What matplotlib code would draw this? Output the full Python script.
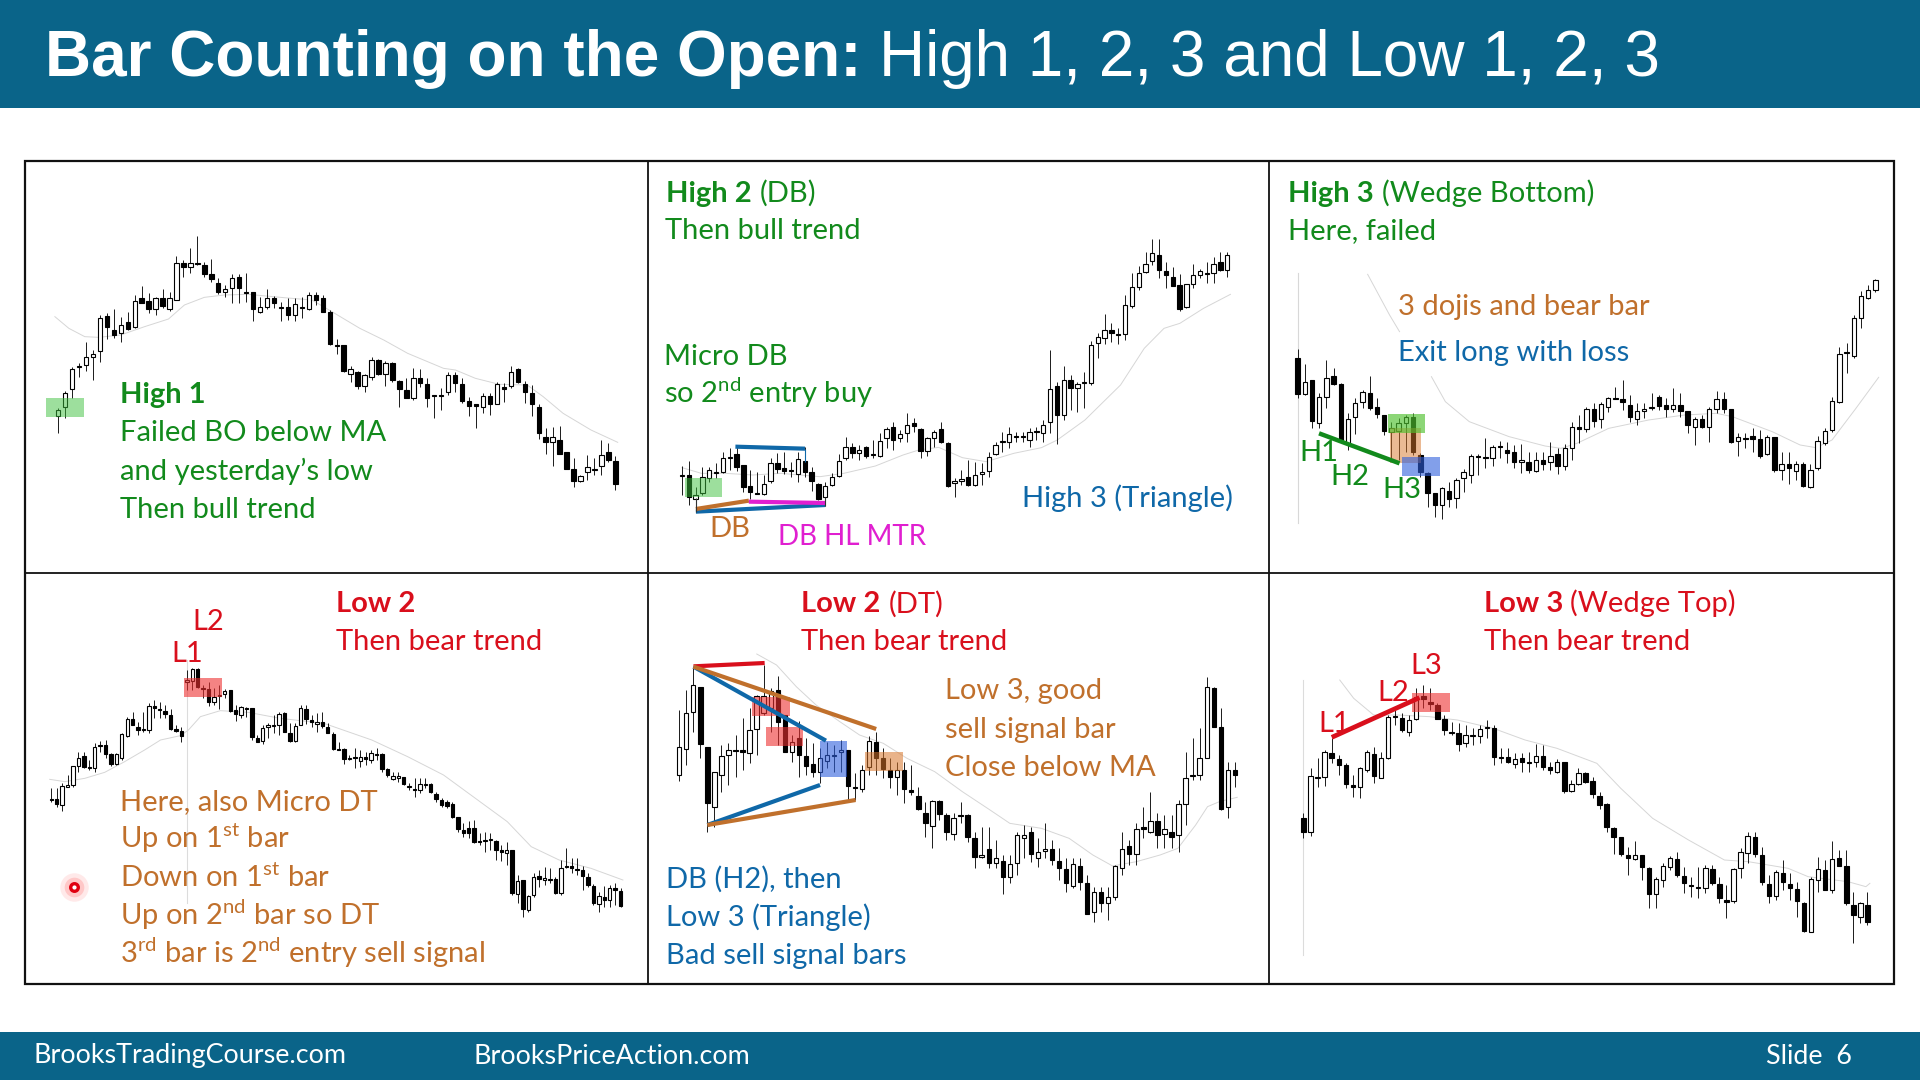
import numpy as np
import matplotlib
matplotlib.use("Agg")
import matplotlib.pyplot as plt
from matplotlib.patches import Rectangle

# Levels are chart units counted from the top of each panel, so smaller = higher.
p1_open = [752,726,673,604,601,575,557,453,495,504,470,486,399,408,433,399,432,405,293,306,293,300,327,354,380,370,336,380,381,441,425,398,425,427,451,426,433,391,398,442,540,541,627,620,664,636,586,627,593,647,674,698,638,657,691,691,682,630,656,709,718,726,692,716,665,663,612,658,684,727,816,831,826,861,913,947,921,914,904,861,887]
p1_close = [736,683,612,603,577,567,460,485,511,479,493,408,413,433,399,423,399,293,307,293,298,326,343,380,373,338,370,381,432,427,398,414,427,451,417,430,389,404,441,538,541,618,613,663,630,586,627,595,645,671,698,638,654,698,692,692,630,654,708,724,724,692,716,657,671,620,652,680,716,805,831,817,867,911,947,933,906,912,871,884,957]
p1_high = [728,678,605,595,532,555,450,445,433,455,440,390,362,385,395,373,380,272,285,248,212,290,283,340,360,328,328,325,380,395,372,392,410,400,400,395,380,382,390,435,522,540,603,618,628,577,583,588,590,645,640,610,612,640,690,670,620,622,640,695,718,685,685,650,655,603,610,648,660,718,790,785,782,860,878,930,870,880,826,833,873]
p1_low = [805,760,698,635,618,645,590,522,520,530,495,490,415,445,450,430,438,405,335,325,300,335,350,388,395,415,415,410,468,445,432,430,468,465,468,460,435,420,442,540,568,620,650,672,680,645,630,662,650,725,700,705,665,725,760,735,690,680,715,752,788,745,750,718,710,668,655,715,752,822,868,903,868,912,965,950,945,930,930,890,975]
p1_ma_x = [75,110,150,185,240,300,360,400,450,500,560,650,720,770,840,900,960,1050,1080,1130,1190,1260,1300,1350,1420,1487]
p1_ma_y = [455,490,515,517,510,485,462,420,397,390,388,398,405,440,490,525,565,610,615,640,658,660,695,745,795,832]

p2_open = [933,929,1001,985,940,920,920,879,868,901,963,984,988,948,895,908,916,927,887,922,957,995,961,933,880,847,865,847,868,872,820,786,820,805,773,793,858,820,793,833,955,947,936,961,928,919,867,832,831,814,813,825,799,805,771,663,751,644,668,655,655,533,519,494,507,506,424,365,322,289,270,317,337,359,425,356,329,325,323,290,316]
p2_close = [929,995,989,935,915,921,880,875,905,967,982,985,956,895,913,919,917,881,920,947,1001,963,937,888,847,865,854,873,870,827,793,824,806,779,783,857,820,800,832,962,949,941,961,929,922,875,841,827,806,815,817,801,800,779,671,749,644,668,658,650,541,515,494,505,511,420,366,325,298,263,316,329,362,431,358,331,317,326,297,316,270]
p2_high = [902,888,965,905,905,895,860,848,840,900,915,920,930,880,865,862,892,860,845,905,955,950,925,868,815,835,840,842,825,805,785,772,795,745,760,790,815,795,772,832,938,915,885,890,895,862,830,800,785,800,800,788,785,765,555,650,602,630,650,622,528,505,447,475,490,390,325,303,262,222,222,290,305,328,358,298,312,290,275,262,262]
p2_low = [990,1020,1032,990,950,940,925,915,918,980,1003,985,990,955,925,928,935,950,935,978,1005,1022,963,935,885,880,885,880,880,875,850,855,830,830,800,880,872,845,835,965,995,960,963,963,960,935,870,860,850,830,830,845,825,830,805,838,765,735,742,730,660,580,538,530,538,525,430,375,325,300,340,368,362,438,430,368,338,355,355,318,337]
p2_ma_x = [81,130,190,260,330,430,490,570,640,680,730,790,850,920,990,1030,1100,1190,1250,1300,1340,1400,1468]
p2_ma_y = [908,925,925,930,925,935,925,903,870,855,847,878,890,865,848,825,765,660,550,490,475,430,388]

p3_open = [578,688,646,775,695,633,658,835,757,712,683,726,750,800,798,775,757,869,923,985,1020,979,1000,940,930,872,875,878,843,856,862,890,892,917,886,890,867,903,848,787,793,733,762,725,699,702,720,763,737,730,695,720,732,721,739,787,763,787,732,702,733,829,818,812,823,868,817,915,898,917,897,965,910,835,795,712,561,572,460,400,375]
p3_close = [688,652,767,695,640,656,825,763,713,682,730,748,797,790,775,757,860,920,983,1020,970,1002,946,922,872,873,879,847,847,865,890,886,915,885,896,873,903,850,787,792,732,767,717,700,701,712,755,739,731,725,723,732,721,737,780,763,786,733,702,732,830,817,819,822,872,817,915,897,908,897,963,915,828,798,707,566,565,460,393,375,345]
p3_high = [553,597,645,685,585,610,655,745,700,675,633,700,750,770,760,750,745,865,920,985,965,950,938,912,868,868,818,840,828,830,840,838,860,860,860,830,850,838,770,750,725,715,712,695,665,646,690,715,715,685,690,700,670,685,738,755,750,725,678,682,733,805,805,788,795,810,815,860,862,888,890,898,812,790,695,545,535,450,378,360,343]
p3_low = [700,690,790,790,730,660,825,855,808,730,735,760,810,880,885,860,870,935,1025,1055,1062,1025,1030,980,953,930,910,902,880,895,910,925,925,920,915,915,928,915,885,835,800,785,790,740,700,735,770,780,760,735,735,755,740,755,805,840,790,830,745,745,835,872,850,860,880,870,920,945,958,945,965,970,915,840,800,715,625,580,490,402,380]
p3_ma_x = [245,300,325,np.nan,405,440,500,600,690,730,770,850,950,1040,1120,1160,1260,1330,1370,1410,1470,1527]
p3_ma_y = [328,450,500,np.nan,635,710,770,815,843,850,835,790,765,750,745,755,800,840,848,825,730,637]

p4_open = [672,672,690,635,630,572,543,575,578,510,511,538,568,550,482,432,455,464,465,392,402,407,420,461,469,322,318,281,338,343,380,362,358,346,404,420,398,400,489,498,456,453,451,414,473,497,449,403,435,446,440,455,476,523,522,552,546,557,547,555,536,538,582,611,610,606,633,641,645,629,628,656,675,682,686,727,765,760,760,798,799,796,797,825,835,825,958,915,1005,960,904,915,911,912,955,872,873,882,885,905,933,988,965,976,940,947]
p4_close = [673,686,633,629,574,548,575,580,515,513,537,567,538,478,432,450,465,462,392,400,404,417,463,467,484,316,281,336,343,380,367,360,347,408,418,396,399,486,500,459,450,451,417,471,497,452,399,432,441,440,452,473,521,524,551,548,549,545,551,535,538,582,600,603,603,628,637,645,627,627,652,673,691,693,725,762,775,775,800,800,796,793,825,830,825,955,917,1003,963,905,913,908,913,955,880,875,880,884,902,930,985,963,975,940,945,992]
p4_high = [640,640,625,600,575,532,530,555,505,498,495,535,535,475,425,412,440,410,385,375,382,390,402,450,455,285,280,278,330,320,340,330,343,345,390,392,395,398,480,450,445,420,410,412,445,445,390,390,420,415,410,445,470,500,520,540,520,525,530,525,520,535,580,590,590,605,625,610,610,610,625,650,670,675,680,725,745,738,735,775,770,775,795,810,800,825,900,915,960,895,885,875,878,905,855,820,850,850,872,895,928,950,932,930,925,940]
p4_low = [680,695,707,635,635,590,580,585,592,530,550,572,570,555,485,450,480,470,475,430,430,430,465,470,500,345,345,338,370,392,390,402,370,410,438,428,425,495,502,508,490,475,480,472,500,500,450,448,455,470,460,475,525,525,568,555,578,575,570,565,555,590,605,615,620,630,645,665,655,640,655,680,695,700,730,770,785,790,805,810,830,825,855,858,870,960,985,1025,1010,965,935,930,925,958,960,880,895,900,945,935,990,1010,995,995,990,995]
p4_ma_x = [62,100,150,200,250,300,340,390,410,440,490,560,640,750,870,960,1050,1130,1210,1270,1340,1420,1500]
p4_ma_y = [613,620,610,592,560,525,495,482,465,425,407,412,430,445,495,545,600,670,740,815,855,880,915]

p5_open = [601,523,412,337,516,695,600,541,525,525,533,462,415,400,346,421,532,490,542,567,592,557,540,530,525,635,643,575,500,550,585,607,585,645,662,713,753,678,720,778,720,720,790,847,823,863,857,906,863,788,770,848,829,822,857,881,932,874,925,1010,952,985,967,880,814,838,755,772,737,778,772,780,687,602,600,548,338,456,695,585]
p5_close = [516,415,329,506,685,592,542,524,527,531,465,362,362,348,440,530,500,540,572,592,550,541,541,525,633,640,585,499,548,583,607,585,642,650,702,745,677,718,770,730,722,787,847,840,863,850,906,866,780,780,838,831,823,856,880,923,866,922,1017,950,983,966,873,823,838,763,762,737,780,763,787,687,610,600,550,337,455,702,585,600]
p5_high = [405,345,275,336,515,590,510,505,480,430,400,360,270,340,303,420,480,438,490,505,520,500,510,495,525,595,570,482,470,520,550,560,560,570,635,680,675,675,715,715,680,718,770,755,755,795,840,840,770,750,755,790,745,795,820,850,850,850,900,935,935,935,870,772,795,745,695,652,715,720,720,675,532,490,460,305,337,400,560,560]
p5_low = [618,570,470,548,770,755,650,630,605,585,565,540,420,470,510,530,560,605,600,605,625,580,590,590,675,675,650,600,600,610,640,660,685,660,705,787,820,735,795,795,745,802,880,850,880,880,957,925,900,850,860,875,850,870,915,950,940,945,1017,1042,1010,1035,975,900,870,870,790,775,820,820,820,830,750,615,615,550,455,705,730,635]
p5_ma_x = [270,320,370,420,480,530,590,650,720,790,860,910,990,1060,1120,1170,1230,1290,1335,1380,1410,1440,1485]
p5_ma_y = [237,270,335,390,440,480,505,550,590,650,705,745,760,790,840,873,860,840,820,750,695,680,667]

p6_open = [730,770,607,607,533,552,571,629,636,585,537,608,550,423,428,470,432,362,380,390,432,471,475,503,482,484,460,460,547,547,566,548,561,561,542,576,590,562,647,627,595,619,662,686,759,786,840,852,840,879,958,915,877,853,903,931,936,940,883,928,975,978,878,835,787,840,927,963,893,927,942,985,1070,916,884,945,850,874,989,1025,989]
p6_close = [772,604,605,531,550,569,628,636,580,531,604,550,425,425,464,435,365,372,386,431,465,473,508,480,480,461,456,546,550,561,552,560,562,542,577,584,562,648,628,595,620,656,689,757,785,838,848,840,877,958,912,873,850,900,925,934,939,878,925,968,982,883,830,783,838,920,963,892,920,938,977,1068,912,883,945,851,872,983,1020,985,1040]
p6_high = [715,580,550,525,488,540,565,600,575,525,515,530,420,400,415,420,340,330,340,385,420,440,445,450,460,450,435,450,520,520,535,535,530,508,510,560,552,560,615,580,590,605,650,685,757,785,815,797,840,875,905,865,842,830,875,905,875,870,870,905,930,880,820,772,770,815,900,885,855,895,920,980,905,845,855,797,825,826,950,980,950]
p6_low = [790,782,635,632,565,600,640,665,670,590,625,610,552,450,470,483,435,400,405,432,480,480,527,517,510,505,490,570,565,565,580,590,590,575,585,597,595,655,650,630,625,670,703,770,838,842,900,855,915,1000,1000,935,885,905,955,965,968,955,930,985,1030,985,910,865,845,930,985,975,945,975,1025,1070,1072,950,945,955,870,990,1105,1045,1050]
p6_ma_x = [175,210,260,320,400,470,560,640,720,820,880,960,1050,1140,1200,1300,1350,1450,1495,1505]
p6_ma_y = [315,370,420,420,425,435,460,495,520,565,640,730,795,855,860,880,905,920,935,925]

GREEN = "#128a1c"
ORANGE = "#c0702c"
BLUE = "#0f68a8"
RED = "#d90f1c"
MAGENTA = "#e01fd0"
HEADER = "#0a6489"

plt.rcParams["font.family"] = "Lato"
plt.rcParams["mathtext.fontset"] = "custom"
plt.rcParams["mathtext.rm"] = "Lato"
BODY = 21


def candles(ax, op, close, high, low, x0, x1, width):
    x = np.linspace(x0, x1, len(op))
    ax.vlines(x, high, low, color="#1a1a1a", lw=0.7, zorder=2)
    for xi, o, c in zip(x, op, close, strict=True):
        top, bot = min(o, c), max(o, c)
        face = "white" if c < o else "black"
        ax.add_patch(Rectangle((xi - width / 2, top), width, max(bot - top, 3), fc=face, ec="black", lw=0.8, zorder=3))


def ma(ax, x, y):
    ax.plot(x, y, color="#d6d6d6", lw=0.7, zorder=1)


def zone(ax, x0, y0, x1, y1, color, alpha=0.5):
    ax.add_patch(Rectangle((x0, y0), x1 - x0, y1 - y0, fc=color, ec="none", alpha=alpha, zorder=4))


def seg(ax, x0, y0, x1, y1, color, lw=3.0):
    ax.plot([x0, x1], [y0, y1], color=color, lw=lw, solid_capstyle="butt", zorder=5)


def label(ax, x, y, s, color, bold=False, size=BODY):
    ax.text(x - 4, y + 3, s, color=color, fontsize=size, fontweight="bold" if bold else "normal",
            va="baseline", ha="left", zorder=6)


def panel(fig, x, y, w, h):
    ax = fig.add_axes([x / 1920, 1 - (y + h) / 1080, w / 1920, h / 1080])
    ax.set_xlim(0, 1568)
    ax.set_ylim(h * 3, 0)
    ax.axis("off")
    return ax


fig = plt.figure(figsize=(19.2, 10.8), dpi=100, facecolor="white")

bg = fig.add_axes([0, 0, 1, 1])
bg.set_xlim(0, 1920)
bg.set_ylim(1080, 0)
bg.axis("off")
bg.add_patch(Rectangle((0, 0), 1920, 108, fc=HEADER, ec="none"))
bg.add_patch(Rectangle((0, 1032), 1920, 48, fc=HEADER, ec="none"))
bg.add_patch(Rectangle((25, 161), 1869, 823, fc="none", ec="#111111", lw=1.6))
bg.plot([648, 648], [161, 984], color="#111111", lw=1.3)
bg.plot([1269, 1269], [161, 984], color="#111111", lw=1.3)
bg.plot([25, 1894], [573, 573], color="#111111", lw=1.3)
bg.text(45, 59, "Bar Counting on the Open:", color="white", fontsize=46, fontweight="bold",
        family="Liberation Sans", va="center")
bg.text(879, 59, "High 1, 2, 3 and Low 1, 2, 3", color="white", fontsize=46,
        family="Liberation Sans", va="center")
bg.text(34, 1056, "BrooksTradingCourse.com", color="white", fontsize=19.4, va="center")
bg.text(474, 1056, "BrooksPriceAction.com", color="white", fontsize=19.4, va="center")
bg.text(1766, 1056, "Slide  6", color="white", fontsize=19.4, va="center")

# High 1
ax = panel(fig, 25, 165, 625, 410)
zone(ax, 53, 700, 148, 756, "#3cc13c")
ma(ax, p1_ma_x, p1_ma_y)
candles(ax, p1_open, p1_close, p1_high, p1_low, 83, 1481, 11)
label(ax, 243, 712, "High 1", GREEN, bold=True)
label(ax, 243, 825, "Failed BO below MA", GREEN)
label(ax, 243, 942, "and yesterday\u2019s low", GREEN)
label(ax, 243, 1057, "Then bull trend", GREEN)

# High 2
ax = panel(fig, 650, 165, 620, 410)
ma(ax, p2_ma_x, p2_ma_y)
candles(ax, p2_open, p2_close, p2_high, p2_low, 81, 1460, 11)
zone(ax, 88, 939, 182, 995, "#3cc13c")
seg(ax, 216, 845, 392, 851, BLUE)
seg(ax, 392, 851, 392, 890, BLUE, lw=0.8)
seg(ax, 116, 1040, 443, 1020, BLUE)
seg(ax, 116, 1032, 250, 1007, ORANGE)
seg(ax, 250, 1010, 443, 1014, MAGENTA)
seg(ax, 116, 1000, 116, 1040, "#333333", lw=0.8)
seg(ax, 443, 995, 443, 1022, "#333333", lw=0.8)
label(ax, 45, 107, "High 2", GREEN, bold=True)
label(ax, 282, 107, "(DB)", GREEN)
label(ax, 43, 218, "Then bull trend", GREEN)
label(ax, 40, 598, "Micro DB", GREEN)
label(ax, 40, 712, "so 2$^{\\mathrm{nd}}$ entry buy", GREEN)
label(ax, 945, 1022, "High 3 (Triangle)", BLUE)
label(ax, 155, 1112, "DB", ORANGE)
label(ax, 328, 1137, "DB HL MTR", MAGENTA, size=20)

# High 3
ax = panel(fig, 1270, 165, 625, 410)
ax.plot([70, 70], [325, 1075], color="#d8d8d8", lw=0.8, zorder=1)
ma(ax, p3_ma_x, p3_ma_y)
candles(ax, p3_open, p3_close, p3_high, p3_low, 69, 1519, 11)
zone(ax, 300, 790, 380, 895, "#d8762a")
zone(ax, 296, 747, 390, 803, "#4fc12f", alpha=0.65)
zone(ax, 331, 876, 426, 932, "#2f5fdc", alpha=0.6)
seg(ax, 123, 805, 325, 895, GREEN, lw=3.2)
label(ax, 48, 107, "High 3", GREEN, bold=True)
label(ax, 286, 107, "(Wedge Bottom)", GREEN)
label(ax, 50, 218, "Here, failed", GREEN)
label(ax, 325, 447, "3 dojis and bear bar", ORANGE)
label(ax, 325, 584, "Exit long with loss", BLUE)
label(ax, 77, 885, "H1", GREEN)
label(ax, 155, 957, "H2", GREEN)
label(ax, 285, 995, "H3", GREEN)

# Low 2
ax = panel(fig, 25, 575, 625, 410)
ax.plot([407, 407], [255, 985], color="#dcdcdc", lw=0.8, zorder=1)
ma(ax, p4_ma_x, p4_ma_y)
candles(ax, p4_open, p4_close, p4_high, p4_low, 66, 1494, 8.5)
zone(ax, 400, 309, 494, 365, "#ee3030", alpha=0.6)
ax.scatter([122], [937], s=420, color="#ff5050", alpha=0.12, lw=0, zorder=6)
ax.scatter([122], [937], s=200, color="#ff5050", alpha=0.22, lw=0, zorder=6)
ax.scatter([122], [937], s=30, facecolor="white", edgecolor="#e00010", lw=2.4, zorder=7)
label(ax, 785, 109, "Low 2", RED, bold=True)
label(ax, 785, 222, "Then bear trend", RED)
label(ax, 424, 162, "L2", RED)
label(ax, 372, 259, "L1", RED)
label(ax, 243, 702, "Here, also Micro DT", ORANGE)
label(ax, 243, 817, "Up on 1$^{\\mathrm{st}}$ bar", ORANGE)
label(ax, 243, 932, "Down on 1$^{\\mathrm{st}}$ bar", ORANGE)
label(ax, 243, 1047, "Up on 2$^{\\mathrm{nd}}$ bar so DT", ORANGE)
label(ax, 243, 1162, "3$^{\\mathrm{rd}}$ bar is 2$^{\\mathrm{nd}}$ entry sell signal", ORANGE)

# Low 2 (DT)
ax = panel(fig, 650, 575, 620, 410)
ma(ax, p5_ma_x, p5_ma_y)
candles(ax, p5_open, p5_close, p5_high, p5_low, 74, 1479, 11)
zone(ax, 258, 365, 354, 422, "#ee3030", alpha=0.6)
zone(ax, 294, 457, 388, 513, "#ee3030", alpha=0.6)
zone(ax, 431, 497, 498, 605, "#2f5fdc", alpha=0.6)
zone(ax, 545, 530, 640, 587, "#d8762a", alpha=0.55)
seg(ax, 110, 274, 290, 264, RED)
seg(ax, 110, 275, 445, 497, BLUE)
seg(ax, 110, 275, 572, 462, ORANGE)
seg(ax, 145, 750, 430, 630, BLUE)
seg(ax, 145, 750, 520, 675, ORANGE)
label(ax, 385, 109, "Low 2", RED, bold=True)
label(ax, 609, 109, "(DT)", RED)
label(ax, 385, 222, "Then bear trend", RED)
label(ax, 750, 369, "Low 3, good", ORANGE)
label(ax, 750, 485, "sell signal bar", ORANGE)
label(ax, 750, 600, "Close below MA", ORANGE)
label(ax, 45, 935, "DB (H2), then", BLUE)
label(ax, 45, 1049, "Low 3 (Triangle)", BLUE)
label(ax, 45, 1164, "Bad sell signal bars", BLUE)

# Low 3
ax = panel(fig, 1270, 575, 625, 410)
ax.plot([84, 84], [315, 1140], color="#dcdcdc", lw=0.8, zorder=1)
ma(ax, p6_ma_x, p6_ma_y)
candles(ax, p6_open, p6_close, p6_high, p6_low, 84, 1499, 11)
zone(ax, 355, 353, 451, 410, "#ee3030", alpha=0.6)
seg(ax, 155, 487, 375, 368, RED, lw=3.4)
label(ax, 540, 109, "Low 3", RED, bold=True)
label(ax, 757, 109, "(Wedge Top)", RED)
label(ax, 540, 222, "Then bear trend", RED)
label(ax, 355, 295, "L3", RED)
label(ax, 273, 375, "L2", RED)
label(ax, 125, 467, "L1", RED)

fig.savefig("out.png", dpi=100)
